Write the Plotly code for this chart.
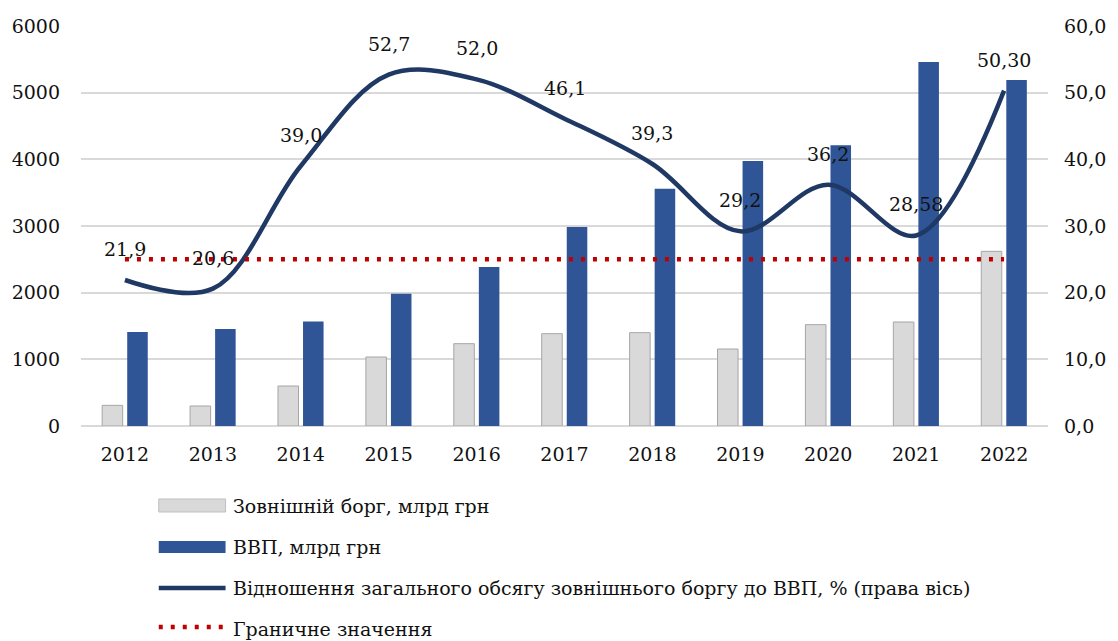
import plotly.graph_objects as go

# --- data -------------------------------------------------------------
years = ["2012", "2013", "2014", "2015", "2016", "2017",
         "2018", "2019", "2020", "2021", "2022"]
external_debt = [310, 300, 600, 1035, 1235, 1385, 1400, 1155, 1520, 1560, 2620]   # млрд грн
gdp = [1410, 1455, 1567, 1985, 2385, 2985, 3560, 3975, 4210, 5460, 5190]           # млрд грн
debt_to_gdp = [21.9, 20.6, 39.0, 52.7, 52.0, 46.1, 39.3, 29.2, 36.2, 28.58, 50.30]  # %
ratio_decimals = [1, 1, 1, 1, 1, 1, 1, 1, 1, 2, 2]
threshold = 25.0  # %

left_ticks = [0, 1000, 2000, 3000, 4000, 5000, 6000]
right_ticks = [0, 10, 20, 30, 40, 50, 60]

series_names = [
    "Зовнішній борг, млрд грн",
    "ВВП, млрд грн",
    "Відношення загального обсягу зовнішнього боргу до ВВП, % (права вісь)",
    "Граничне значення",
]

# --- styling ----------------------------------------------------------
W, H = 1118, 641
ML, MR, MT, MB = 80, 68, 26, 215
FONT = "DejaVu Serif, Liberation Serif, serif"
FS = 19
TXT = "#111111"
GREY, GREY_EDGE = "#D9D9D9", "#A6A6A6"
BLUE = "#2F5597"
NAVY = "#1F3864"
RED = "#C00000"
GRID = "#D9D9D9"
DOTS = "4px,8px"

plot_w = W - ML - MR
plot_h = H - MT - MB


def px_x(x):
    return (x - ML) / plot_w


def px_y(y):
    return (H - MB - y) / plot_h


fig = go.Figure()

fig.add_trace(go.Bar(
    x=years, y=external_debt, name=series_names[0],
    marker=dict(color=GREY, line=dict(color=GREY_EDGE, width=1)),
))
fig.add_trace(go.Bar(
    x=years, y=gdp, name=series_names[1],
    marker=dict(color=BLUE, line=dict(width=0)),
))
fig.add_trace(go.Scatter(
    x=years, y=debt_to_gdp, name=series_names[2], yaxis="y2",
    mode="lines", line=dict(color=NAVY, width=4.5, shape="spline", smoothing=1.0),
))
fig.add_trace(go.Scatter(
    x=years, y=[threshold] * len(years), name=series_names[3], yaxis="y2",
    mode="lines", line=dict(color=RED, width=4.5, dash=DOTS),
))

# value labels over the ratio line (category index positions)
for i, (v, d) in enumerate(zip(debt_to_gdp, ratio_decimals)):
    fig.add_annotation(
        x=i, y=v, xref="x", yref="y2", yshift=31,
        text=f"{v:.{d}f}".replace(".", ","), showarrow=False,
        font=dict(family=FONT, size=FS, color=TXT),
    )

# legend drawn below the plot
legend_rows = [506, 547, 588, 629]
sw_x0, sw_x1, txt_x = 158, 225, 230
fig.add_shape(type="rect", xref="paper", yref="paper",
              x0=px_x(sw_x0), x1=px_x(sw_x1), y0=px_y(legend_rows[0] - 7), y1=px_y(legend_rows[0] + 6),
              fillcolor=GREY, line=dict(color="#BFBFBF", width=1))
fig.add_shape(type="rect", xref="paper", yref="paper",
              x0=px_x(sw_x0), x1=px_x(sw_x1), y0=px_y(legend_rows[1] - 6), y1=px_y(legend_rows[1] + 6),
              fillcolor=BLUE, line=dict(width=0))
fig.add_shape(type="line", xref="paper", yref="paper",
              x0=px_x(sw_x0), x1=px_x(sw_x1), y0=px_y(legend_rows[2]), y1=px_y(legend_rows[2]),
              line=dict(color=NAVY, width=4.5))
fig.add_shape(type="line", xref="paper", yref="paper",
              x0=px_x(sw_x0), x1=px_x(sw_x1), y0=px_y(legend_rows[3] - 2), y1=px_y(legend_rows[3] - 2),
              line=dict(color=RED, width=4.5, dash=DOTS))
for name, row in zip(series_names, legend_rows):
    fig.add_annotation(
        x=px_x(txt_x), y=px_y(row), xref="paper", yref="paper",
        xanchor="left", yanchor="middle", text=name, showarrow=False,
        font=dict(family=FONT, size=FS, color=TXT),
    )

fig.update_layout(
    width=W, height=H,
    margin=dict(l=ML, r=MR, t=MT, b=MB),
    paper_bgcolor="white", plot_bgcolor="white",
    barmode="group", bargap=0.43, bargroupgap=0.18,
    showlegend=False,
    separators=", ",
    font=dict(family=FONT, size=FS, color=TXT),
    xaxis=dict(
        type="category", range=[-0.5, len(years) - 0.5],
        showgrid=False, showline=False, ticks="",
        ticklabelstandoff=15, tickfont=dict(family=FONT, size=FS),
    ),
    yaxis=dict(
        range=[0, 6000], tickvals=left_ticks, tickformat="d",
        showgrid=True, gridcolor=GRID, gridwidth=1.5,
        zeroline=True, zerolinecolor=GRID, zerolinewidth=1.5,
        showline=False, ticks="", ticklabelstandoff=20,
        tickfont=dict(family=FONT, size=FS),
    ),
    yaxis2=dict(
        range=[0, 60], tickvals=right_ticks, tickformat=".1f",
        overlaying="y", side="right", showgrid=False, zeroline=False,
        showline=False, ticks="", ticklabelstandoff=15,
        tickfont=dict(family=FONT, size=FS),
    ),
)

fig.write_html("out.html")
